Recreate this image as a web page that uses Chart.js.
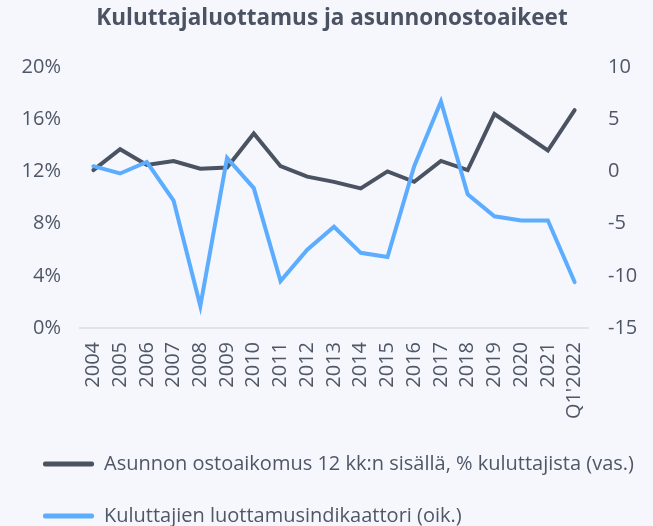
<!DOCTYPE html>
<html>
<head>
<meta charset="utf-8">
<script src="https://cdn.jsdelivr.net/npm/chart.js@4/dist/chart.umd.min.js"></script>
<style>
  html, body { margin: 0; padding: 0; background: #f5f7fc; overflow: hidden; }
  #wrap { width: 653px; height: 536px; position: relative; }
</style>
</head>
<body>
<div id="wrap"><canvas id="chart"></canvas></div>
<script>
const years = ['2004', '2005', '2006', '2007', '2008', '2009', '2010', '2011', '2012', '2013',
  '2014', '2015', '2016', '2017', '2018', '2019', '2020', '2021', "Q1'2022"];
// % kuluttajista, left axis
const purchaseIntent = [12.1, 13.7, 12.5, 12.8, 12.2, 12.3, 14.9, 12.4, 11.6, 11.2,
  10.7, 12.0, 11.2, 12.8, 12.1, 16.4, 15.0, 13.6, 16.7];
// luottamusindikaattori, right axis
const confidence = [0.5, -0.2, 0.9, -2.8, -12.9, 1.3, -1.6, -10.5, -7.5, -5.3,
  -7.8, -8.2, 0.5, 6.7, -2.2, -4.3, -4.7, -4.7, -10.6];

const textColor = '#4f5767';
const font = 'Open Sans';

const ctx = document.getElementById('chart');
new Chart(ctx, {
  type: 'line',
  data: {
    labels: years,
    datasets: [
      { label: 'Asunnon ostoaikomus 12 kk:n sisällä, % kuluttajista (vas.)', data: purchaseIntent,
        borderColor: '#4b5363', backgroundColor: '#4b5363', borderWidth: 4, pointRadius: 0,
        tension: 0, yAxisID: 'y', order: 1, borderCapStyle: 'round' },
      { label: 'Kuluttajien luottamusindikaattori (oik.)', data: confidence,
        borderColor: '#5cadff', backgroundColor: '#5cadff', borderWidth: 4, pointRadius: 0,
        tension: 0, yAxisID: 'y1', order: 0, borderCapStyle: 'round' },
    ],
  },
  options: {
    responsive: true,
    maintainAspectRatio: false,
    animation: false,
    layout: { padding: { left: 11, right: 0, top: 0, bottom: 0 } },
    plugins: {
      tooltip: { enabled: false },
      title: {
        display: true,
        text: 'Kuluttajaluottamus ja asunnonostoaikeet',
        color: '#4b5363',
        font: { family: font, size: 22.5, weight: 'bold' },
        padding: { top: 5, bottom: 35 },
      },
      legend: {
        position: 'bottom',
        align: 'start',
        labels: {
          color: textColor,
          font: { family: font, size: 20 },
          boxWidth: 51,
          boxHeight: 5,
          padding: 32,
          useBorderRadius: true,
          borderRadius: 2,
          sort: (a, b) => a.datasetIndex - b.datasetIndex,
          generateLabels: chart => Chart.defaults.plugins.legend.labels.generateLabels(chart)
            .map(l => Object.assign(l, { lineWidth: 0, fillStyle: l.strokeStyle })),
        },
      },
    },
    scales: {
      x: {
        offset: true,
        grid: { display: false, drawTicks: false },
        border: { display: true, color: '#dfe3ea', width: 2 },
        ticks: { color: textColor, font: { family: font, size: 20 }, autoSkip: false,
          minRotation: 90, maxRotation: 90, padding: 14 },
        afterFit: s => { s.height = 94; },
      },
      y: {
        position: 'left',
        min: 0, max: 20,
        grid: { display: false, drawTicks: false },
        border: { display: false },
        ticks: { stepSize: 4, color: textColor, font: { family: font, size: 20 }, padding: 19,
          callback: v => v + '%' },
        afterFit: s => { s.width = 69; },
      },
      y1: {
        position: 'right',
        min: -15, max: 10,
        grid: { display: false, drawTicks: false },
        border: { display: false },
        ticks: { stepSize: 5, color: textColor, font: { family: font, size: 20 }, padding: 20 },
        afterFit: s => { s.width = 65; },
      },
    },
  },
});
</script>
</body>
</html>
